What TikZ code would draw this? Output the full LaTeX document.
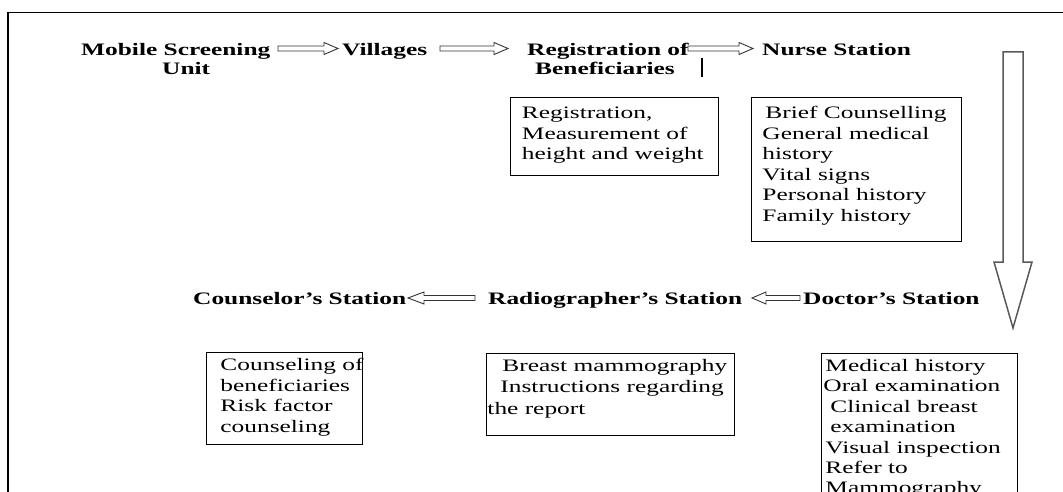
\documentclass[tikz,border=0pt]{standalone}
\usepackage{fontspec}
\setmainfont{Liberation Serif}[FakeStretch=1.45]
\newcommand{\blkarrow}[6]{%
  \pgfmathsetmacro\bdir{(#2>#1)?1:-1}%
  \pgfmathsetmacro\bhx{#2-\bdir*#6}%
  \draw[blk] (#1,#3-#4) -- (\bhx,#3-#4) -- (\bhx,#3-#5) -- (#2,#3) -- (\bhx,#3+#5) -- (\bhx,#3+#4) -- (#1,#3+#4) -- cycle;}
\newcommand{\firstgap}[1]{\rule{0pt}{#1}}
\begin{document}
\begin{tikzpicture}[x=1pt,y=-1pt,
  lbl/.style={inner sep=0pt, anchor=base west, align=left, font=\bfseries\fontsize{17.5}{19.5}\selectfont},
  box/.style={draw, line width=0.9pt, inner sep=0pt, anchor=north west},
  blk/.style={draw=black!80, line width=0.9pt, line join=miter},
  bigarrow/.style={draw=black!65, line width=1.5pt, line join=miter}]
\useasboundingbox (0,0) rectangle (1063,492);
\clip (0,0) rectangle (1063,492);
% frame
\draw[line width=1.4pt] (8,500) -- (8,12.5) -- (1070,12.5);
% row 1 labels (base anchor = baseline of last line)
\node[lbl] (mob) at (81,75) {Mobile Screening\\\hspace*{81pt}Unit};
\node[lbl] (vil) at (342,55.5) {Villages};
\node[lbl] (reg) at (527,75) {Registration of\\\hspace*{8pt}Beneficiaries};
\node[lbl] (nur) at (762,55.5) {Nurse Station};
\draw[line width=1.2pt] (702,58) -- (702,77);
% row 1 arrows
\blkarrow{278}{338}{48.5}{2.5}{6}{14}
\blkarrow{440}{508}{48.5}{2.5}{6}{14}
\blkarrow{688}{753}{48.5}{2.5}{6}{14}
% big down arrow
\draw[bigarrow] (1003,52) -- (1023,52) -- (1023,262) -- (1032,262) -- (1013,328) -- (994,262) -- (1003,262) -- cycle;
% upper boxes
\node[box] (regbox) at (510,97) {\fontsize{17.5}{20.6}\selectfont\begin{minipage}[t][78pt][t]{208pt}%
\firstgap{21pt}\mbox{\hspace*{11.5pt}Registration,}\\
\mbox{\hspace*{11.5pt}Measurement of}\\
\mbox{\hspace*{11.5pt}height and weight}\end{minipage}};
\node[box] (nurbox) at (751,97) {\fontsize{17.5}{20.6}\selectfont\begin{minipage}[t][144pt][t]{210pt}%
\firstgap{21pt}\mbox{\hspace*{14pt}Brief Counselling}\\
\mbox{\hspace*{11pt}General medical}\\
\mbox{\hspace*{11pt}history}\\
\mbox{\hspace*{11pt}Vital signs}\\
\mbox{\hspace*{11pt}Personal history}\\
\mbox{\hspace*{11pt}Family history}\end{minipage}};
% row 2 labels
\node[lbl] (cou) at (193,304) {Counselor’s Station};
\node[lbl] (rad) at (488,304) {Radiographer’s Station};
\node[lbl] (doc) at (803,304) {Doctor’s Station};
\blkarrow{475}{408}{298}{2.5}{6}{16}
\blkarrow{800}{752}{298}{2.5}{6}{14}
% lower boxes
\node[box] (coubox) at (206,352) {\fontsize{17.5}{20.7}\selectfont\begin{minipage}[t][92pt][t]{156pt}%
\firstgap{18pt}\mbox{\hspace*{14pt}Counseling of}\\
\mbox{\hspace*{14pt}beneficiaries}\\
\mbox{\hspace*{14pt}Risk factor}\\
\mbox{\hspace*{14pt}counseling}\end{minipage}};
\node[box] (radbox) at (486,353) {\fontsize{17.5}{21.3}\selectfont\begin{minipage}[t][82pt][t]{248pt}%
\firstgap{18pt}\mbox{\hspace*{16pt}Breast mammography}\\
\mbox{\hspace*{14pt}Instructions regarding}\\
\mbox{\hspace*{1pt}the report}\end{minipage}};
\node[box] (docbox) at (821,353) {\fontsize{17.5}{20.4}\selectfont\begin{minipage}[t][200pt][t]{196pt}%
\firstgap{18pt}\mbox{\hspace*{4pt}Medical history}\\
\mbox{\hspace*{2pt}Oral examination}\\
\mbox{\hspace*{9pt}Clinical breast}\\
\mbox{\hspace*{9pt}examination}\\
\mbox{\hspace*{4pt}Visual inspection}\\
\mbox{\hspace*{4pt}Refer to}\\
\mbox{\hspace*{4pt}Mammography}\end{minipage}};
\end{tikzpicture}
\end{document}
